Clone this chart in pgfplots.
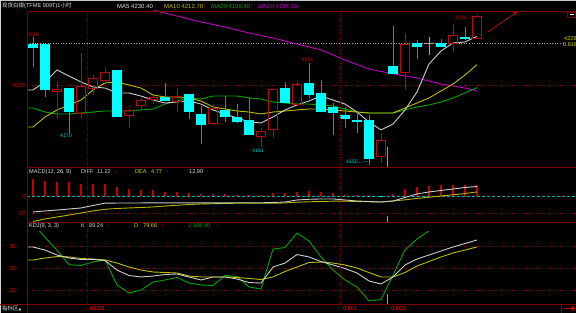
\documentclass[border=0pt]{standalone}
\usepackage{fontspec}
\setmainfont{Liberation Sans}
\newfontfamily\cjk{Noto Sans CJK SC}
\newfontfamily\dv{DejaVu Sans}
\usepackage{pgfplots}
\pgfplotsset{compat=1.18}
\usepackage{pgfplotstable}
\usetikzlibrary{arrows.meta}

\definecolor{fr}{RGB}{128,0,0}
\definecolor{upred}{RGB}{185,10,10}
\definecolor{barred}{RGB}{200,0,0}
\definecolor{dncy}{RGB}{0,255,255}
\definecolor{dnwick}{RGB}{0,165,165}
\definecolor{ma5c}{RGB}{205,205,205}
\definecolor{ma10c}{RGB}{190,190,0}
\definecolor{ma20c}{RGB}{0,165,0}
\definecolor{ma60c}{RGB}{190,0,190}
\definecolor{lblred}{RGB}{210,0,0}
\definecolor{yel}{RGB}{215,215,0}
\definecolor{txtw}{RGB}{225,225,225}
\definecolor{zeroc}{RGB}{0,175,175}
\definecolor{lowc}{RGB}{0,210,210}
\definecolor{greyc}{RGB}{170,170,170}

\newcommand\fa{\fontsize{6}{7}\selectfont}
\newcommand\fb{\fontsize{5.6}{6.5}\selectfont}
\newcommand\fc{\fontsize{5.2}{6}\selectfont}
\newcommand\fk{\cjk\fontsize{5.5}{6}\selectfont}

% up (red, hollow) candles
\pgfplotstableread{
i o h l c
2 4196 4202 4179 4197
4 4182 4220 4179 4199
5 4198 4206 4194 4204
6 4202.5 4211 4201 4208
8 4181 4185 4173 4184
9 4187 4192 4184 4190
10 4191 4193 4188 4192
12 4189.5 4198 4183 4192.5
15 4176 4188 4175.5 4185
19 4168 4173 4161 4171
20 4172 4197 4167 4197
22 4188 4202 4187.5 4200
29 4155 4170 4151 4165
31 4207.5 4232.5 4197 4225
35 4226 4238 4220.6 4231
37 4229 4244 4229 4243
}\upt
% down (cyan, filled) candles
\pgfplotstableread{
i o h l c
0 4225.5 4230 4211 4223.5
1 4225.5 4225.5 4192.5 4197
3 4198 4198 4170 4183
7 4209 4209 4180 4180
11 4192.5 4201 4190 4190
13 4194 4194 4179 4183
14 4182 4187 4163 4175
16 4184 4193 4177 4180
17 4180 4188 4176 4177
18 4178 4192 4169 4169
21 4198 4202 4189 4189
23 4201 4214 4192 4194
24 4195 4203 4183 4183
25 4186 4189 4169 4182.5
26 4181 4186 4173 4179
27 4178 4184 4170 4177
28 4178 4181 4150 4154
30 4212 4237 4207 4207
32 4226 4228 4216 4224
34 4226 4229 4224 4224
36 4230 4236 4228 4229
}\dnt
% doji
\pgfplotstableread{
i o h l c
33 4226 4230 4219 4226
}\djt
% moving averages
\pgfplotstableread{
i ma5 ma10 ma20
-1 4196.9 4173.75 4185.6
0 4196.9 4173.75 4185.6
1 4201.9 4180 4183.1
2 4209.4 4184.4 4181.9
3 4205.6 4187.5 4181.9
4 4201.9 4190.6 4182.5
5 4198.8 4196.9 4183.1
6 4198.1 4201.25 4183.75
7 4195 4201.9 4183.75
8 4195 4200 4183.75
9 4193.1 4198.1 4184.4
10 4190.6 4193.75 4185
11 4188.75 4192.5 4188.1
12 4189.4 4192.5 4190
13 4190 4191.9 4191.9
14 4188.1 4190 4191.25
15 4184.4 4186.25 4193.1
16 4181.9 4185 4193.1
17 4179.4 4183.75 4193.1
18 4176.9 4183.1 4191.9
19 4176.3 4181.9 4191.25
20 4180 4183.1 4189.4
21 4184.4 4183.75 4188.75
22 4187.5 4184.4 4188.1
23 4190 4185 4188.1
24 4193.1 4185 4187.5
25 4190.6 4184.4 4186.9
26 4188.1 4183.75 4185
27 4183.1 4183.1 4183.1
28 4176.9 4182.5 4182.5
29 4171.9 4182.5 4182.5
30 4175.6 4182.5 4182.5
31 4184.4 4185.6 4184.4
32 4195.6 4188.75 4186.25
33 4213.1 4191.9 4187.5
34 4221.25 4196.25 4189.4
35 4226.25 4200.6 4191.9
36 4226.9 4206.25 4195
37 4230.4 4212.7 4198.4
}\mat
\pgfplotstableread{
i ma60
10 4246.9
12 4243.1
14 4239.4
16 4236.25
18 4232.5
20 4229.4
22 4225.6
24 4221.9
26 4215.6
28 4210
30 4206.9
32 4204.4
34 4200.6
36 4198.1
37 4196.28
}\msix
% MACD
\pgfplotstableread{
i bar diff dea
0 20 -18.8 -30
1 17.6 -17.6 -27
2 16.5 -16.5 -24.7
3 16.5 -15.3 -22.4
4 14.1 -14.1 -20
5 14.1 -11.2 -17.6
6 14.1 -8.4 -15.6
7 10.6 -8.3 -14.7
8 8.2 -8.2 -14.1
9 7.1 -8.2 -13.5
10 7.1 -8.1 -12.9
11 4.7 -8.1 -11.8
12 4.7 -8.1 -10.9
13 3.5 -8.1 -10.1
14 2.4 -8.1 -9.4
15 1.8 -8.1 -9.1
16 1.8 -8.1 -8.8
17 1.2 -8.0 -8.5
18 1.2 -8.0 -8.4
19 1.2 -8.0 -8.6
20 3.5 -7.6 -8.6
21 3.5 -7.1 -8.2
22 4.7 -4.7 -7.3
23 5.9 -3.9 -6.8
24 4.7 -3.5 -6.5
25 3.5 -3.5 -6.1
26 1.2 -4.7 -6.1
27 0.6 -5.9 -6.5
28 -0.8 -6.5 -6.8
29 -0.8 -7.1 -7.1
30 2.4 -5.9 -5.9
31 8.2 -1.8 -4.5
32 10.6 2.4 -2.9
33 11.8 4.7 -1.4
34 12.9 6.5 0
35 12.9 8.2 1.4
36 12.4 10 2.9
37 12.9 11.22 4.77
}\macd
% KDJ
\pgfplotstableread{
i k d j
-1 79.5 61.5 112
0 79.5 61.5 112
1 75.3 64.3 93
2 68.4 66.3 75
3 64.3 65.7 55
4 62.2 63.6 54
5 62.2 62.9 58.7
6 60.8 61.5 61.5
7 47.6 57.3 26.9
8 40 51.8 15.8
9 38 47.6 20
10 39.3 44.9 31
11 41.4 44.2 33.8
12 42.1 43.5 37.3
13 38 39.3 29.6
14 33.8 38 26.9
15 38 38 26.2
16 38 38 40
17 35.2 37.3 38.6
18 30.3 35.9 24.1
19 29.6 34.5 21.3
20 51.8 38 76.7
21 57.3 45.6 78.8
22 69.1 51.8 98.9
23 65.7 58 87.8
24 59.4 58.7 65.7
25 54.6 57.3 47.6
26 49.7 54.6 33.8
27 43.5 50.4 24.1
28 32.4 44.2 4.7
29 28.3 38 6.8
30 38 38 40.7
31 54.6 44.2 75.3
32 62.9 53.2 90.6
33 68.4 59.4 102
34 74 65.7 106
35 79.5 71.2 107
36 84.3 75.3 108
37 89.24 79.66 108.4
}\kdj

\pgfplotsset{
  panel/.style={scale only axis, width=549pt, anchor=south west,
    xmin=-0.5, xmax=45.25, axis line style={draw=none},
    major tick length=0pt, tick style={draw=none}, xtick=\empty,
    ymajorgrids, grid style={fr, line width=0.8pt, dash pattern=on 0.8pt off 1.6pt},
    yticklabel style={font=\fa, text=lblred, inner sep=1pt},
    /pgf/number format/assume math mode=true, /pgf/number format/1000 sep={},
    clip mode=individual},
  vbar/.style 2 args={draw=none, mark=none, forget plot,
    /pgfplots/error bars/y dir=both, /pgfplots/error bars/y explicit,
    /pgfplots/error bars/error mark=none,
    /pgfplots/error bars/error bar style={draw=#1, solid, line width=#2}},
  hbar/.style 2 args={draw=none, mark=none, forget plot,
    /pgfplots/error bars/x dir=both, /pgfplots/error bars/x explicit,
    /pgfplots/error bars/error mark=none,
    /pgfplots/error bars/error bar style={draw=#1, solid, line width=#2}},
}

\begin{document}
\begin{tikzpicture}
\useasboundingbox (0pt,0pt) rectangle (576pt,313pt);
\fill[black] (0pt,0pt) rectangle (576pt,313pt);

% ---------------- main panel
\begin{axis}[panel, at={(27pt,146pt)}, height=156pt, ymin=4148.75, ymax=4246.25, ytick={4200}]
\draw[greyc, line width=0.8pt, dash pattern=on 1pt off 1.6pt] (axis cs:-0.5,4226) -- (axis cs:44.2,4226);
\addplot[ma60c, line width=0.9pt] table[x=i, y=ma60] {\msix};
\addplot[ma20c, line width=0.9pt] table[x=i, y=ma20] {\mat};
\addplot[ma10c, line width=0.9pt] table[x=i, y=ma10] {\mat};
\addplot[ma5c, line width=0.9pt] table[x=i, y=ma5] {\mat};
% up candles: wicks and hollow bodies
\addplot[vbar={upred}{1pt}] table[x=i, y expr={(\thisrow{h}+\thisrow{c})/2}, y error expr={(\thisrow{h}-\thisrow{c})/2}] {\upt};
\addplot[vbar={upred}{1pt}] table[x=i, y expr={(\thisrow{o}+\thisrow{l})/2}, y error expr={(\thisrow{o}-\thisrow{l})/2}] {\upt};
\addplot[vbar={upred}{1pt}] table[x expr={\thisrow{i}-0.375}, y expr={(\thisrow{o}+\thisrow{c})/2}, y error expr={(\thisrow{c}-\thisrow{o})/2}] {\upt};
\addplot[vbar={upred}{1pt}] table[x expr={\thisrow{i}+0.375}, y expr={(\thisrow{o}+\thisrow{c})/2}, y error expr={(\thisrow{c}-\thisrow{o})/2}] {\upt};
\addplot[hbar={upred}{1pt}] table[x=i, y=c, x error expr={0.4167}] {\upt};
\addplot[hbar={upred}{1pt}] table[x=i, y=o, x error expr={0.4167}] {\upt};
% down candles
\addplot[vbar={dnwick}{1pt}] table[x=i, y expr={(\thisrow{h}+\thisrow{l})/2}, y error expr={(\thisrow{h}-\thisrow{l})/2}] {\dnt};
\addplot[vbar={dncy}{9.6pt}] table[x=i, y expr={(\thisrow{o}+\thisrow{c})/2}, y error expr={max(abs(\thisrow{c}-\thisrow{o})/2,0.4)+0.1}] {\dnt};
% doji
\addplot[vbar={greyc}{1pt}] table[x=i, y expr={(\thisrow{h}+\thisrow{l})/2}, y error expr={(\thisrow{h}-\thisrow{l})/2}] {\djt};
\addplot[hbar={greyc}{1.2pt}] table[x=i, y=c, x error expr={0.4167}] {\djt};
% labels
\node[text=lblred, anchor=south, inner sep=0.6pt, font=\fc] at (axis cs:0,4230) {4230};
\node[text=lowc, anchor=north, inner sep=0.8pt, font=\fc] at (axis cs:2.75,4170) {4170};
\node[text=lowc, anchor=north, inner sep=0.8pt, font=\fc] at (axis cs:18.75,4161) {4161};
\node[text=lblred, anchor=south, inner sep=0.6pt, font=\fc] at (axis cs:22.85,4214) {4214};
\node[text=lowc, anchor=east, inner sep=0pt, font=\fc] at (axis cs:27.95,4151.9) {4150←—};
\node[text=lblred, anchor=east, inner sep=0pt, font=\fc] at (axis cs:36.6,4241.9) {4244←};
\draw[upred, line width=0.8pt, -{Stealth[length=5pt,width=4pt]}] (axis cs:37.9,4233.1) -- (axis cs:40.4,4246);
\end{axis}

% ---------------- MACD panel
\begin{axis}[panel, at={(27pt,91pt)}, height=55pt, ymin=-30.6, ymax=34.1, ytick={-20,0}]
\draw[zeroc, line width=0.8pt, dash pattern=on 3pt off 2pt] (axis cs:-0.5,0) -- (axis cs:45.25,0);
\addplot[ycomb, barred, line width=1.2pt, restrict y to domain=0:100] table[x=i, y=bar] {\macd};
\addplot[ycomb, dncy, line width=1.2pt, restrict y to domain=-100:0] table[x=i, y=bar] {\macd};
\addplot[yel!85!black, line width=0.9pt] table[x=i, y=dea] {\macd};
\addplot[ma5c, line width=0.9pt] table[x=i, y=diff] {\macd};
\end{axis}

% ---------------- KDJ panel
\begin{axis}[panel, at={(27pt,9pt)}, height=72.5pt, ymin=0.55, ymax=101, ytick={20,50,80},
  yticklabel style={xshift=-9pt}]
\addplot[ma20c, line width=0.9pt] table[x=i, y=j] {\kdj};
\addplot[ma10c, line width=0.9pt] table[x=i, y=d] {\kdj};
\addplot[ma5c, line width=0.9pt] table[x=i, y=k] {\kdj};
\end{axis}

% ---------------- frame
\draw[gray!45, line width=0.6pt] (0pt,312.6pt) -- (576pt,312.6pt);
\draw[gray!35, line width=0.6pt] (0.4pt,0pt) -- (0.4pt,313pt);
\draw[fr, line width=0.9pt] (27pt,302pt) -- (576pt,302pt);
\draw[fr, line width=0.9pt] (27pt,146pt) -- (576pt,146pt);
\draw[fr, line width=0.9pt] (27pt,91pt) -- (576pt,91pt);
\draw[fr, line width=0.9pt] (0pt,9pt) -- (576pt,9pt);
\draw[fr, line width=0.9pt] (27pt,0pt) -- (27pt,302pt);
\draw[fr, line width=0.9pt] (561pt,0pt) -- (561pt,9pt);
\foreach \xx in {87,340}
  \draw[fr, line width=0.8pt, dash pattern=on 0.8pt off 1.6pt] (\xx pt,9pt) -- (\xx pt,302pt);
\foreach \ya/\yb in {146/166, 91/97, 9/19}
  \draw[yel!80!black, line width=1pt] (387pt,\ya pt) -- (387pt,\yb pt);
% top-right icon
\draw[fr, fill=black, line width=0.6pt] (567.5pt,296pt) rectangle (575.5pt,301pt);
\draw[white, line width=0.8pt] (569.5pt,298.5pt) -- (573.5pt,298.5pt);
% bottom-right arrow
\draw[lblred, line width=1.6pt, -{Triangle[length=3pt,width=5pt]}] (564pt,4.5pt) -- (575pt,4.5pt);

% ---------------- header texts
\node[anchor=west, inner sep=0pt, text=txtw, font=\fb] at (2pt,307pt) {{\fk 现货白银}(TFME 909T)1{\fk 小时}};
\node[anchor=west, inner sep=0pt, text=txtw, font=\fa] at (117pt,307pt) {MA5 4230.40};
\node[anchor=west, inner sep=0pt, text=lblred, font=\fa] at (154pt,307pt) {↑};
\node[anchor=west, inner sep=0pt, text=ma10c, font=\fa] at (164pt,307pt) {MA10 4212.70};
\node[anchor=west, inner sep=0pt, text=lblred, font=\fa] at (203pt,307pt) {↑};
\node[anchor=west, inner sep=0pt, text=ma20c, font=\fa] at (211pt,307pt) {MA20 4198.40};
\node[anchor=west, inner sep=0pt, text=lblred, font=\fa] at (250pt,307pt) {↑};
\node[anchor=west, inner sep=0pt, text=ma60c, font=\fa] at (258pt,307pt) {MA60 4196.28};
\node[anchor=west, inner sep=0pt, text=ma20c, font=\fa] at (297pt,307pt) {↓};
% right labels
\node[anchor=west, inner sep=0pt, text=yel, font=\fb] at (564pt,274pt) {4226};
\node[anchor=west, inner sep=0pt, text=yel, font=\fb] at (563pt,268pt) {0.618};

% MACD header
\node[anchor=west, inner sep=0pt, text=txtw, font=\fb] at (29pt,141pt) {MACD(12, 26, 9)};
\node[anchor=west, inner sep=0pt, text=ma5c, font=\fb] at (81pt,141pt) {DIFF};
\node[anchor=west, inner sep=0pt, text=ma5c, font=\fb] at (97pt,141pt) {11.22};
\node[anchor=west, inner sep=0pt, text=lblred, font=\fb] at (115pt,141pt) {↑};
\node[anchor=west, inner sep=0pt, text=yel, font=\fb] at (135pt,141pt) {DEA};
\node[anchor=west, inner sep=0pt, text=yel, font=\fb] at (151pt,141pt) {4.77};
\node[anchor=west, inner sep=0pt, text=lblred, font=\fb] at (166pt,141pt) {↑};
\node[anchor=west, inner sep=0pt, text=txtw, font=\fb] at (189pt,141pt) {12.90};
\node[anchor=west, inner sep=0pt, text=lblred, font=\fb] at (206pt,141pt) {↑};

% KDJ header
\node[anchor=west, inner sep=0pt, text=txtw, font=\fb] at (29pt,87pt) {KDJ(9, 3, 3)};
\node[anchor=west, inner sep=0pt, text=ma5c, font=\fb] at (81pt,87pt) {K};
\node[anchor=west, inner sep=0pt, text=ma5c, font=\fb] at (89pt,87pt) {89.24};
\node[anchor=west, inner sep=0pt, text=lblred, font=\fb] at (106pt,87pt) {↑};
\node[anchor=west, inner sep=0pt, text=yel, font=\fb] at (134pt,87pt) {D};
\node[anchor=west, inner sep=0pt, text=yel, font=\fb] at (143pt,87pt) {79.66};
\node[anchor=west, inner sep=0pt, text=lblred, font=\fb] at (161pt,87pt) {↑};
\node[anchor=west, inner sep=0pt, text=ma20c, font=\fb] at (188pt,87pt) {J};
\node[anchor=west, inner sep=0pt, text=ma20c, font=\fb] at (193pt,87pt) {108.40};
\node[anchor=west, inner sep=0pt, text=lblred, font=\fb] at (216pt,87pt) {↑};

% bottom row
\node[anchor=west, inner sep=0pt, text=txtw] at (2pt,4.3pt) {{\fk 指标区}{\dv\fontsize{3.5}{4}\selectfont ▲}};
\node[anchor=west, inner sep=0pt, text=lblred, font=\fb\bfseries] at (90pt,4pt) {02/28};
\node[anchor=west, inner sep=0pt, text=lblred, font=\fb\bfseries] at (343pt,4pt) {03/01};
\node[anchor=west, inner sep=0pt, text=lblred, font=\fb\bfseries] at (391pt,4pt) {03/03};
\end{tikzpicture}
\end{document}
